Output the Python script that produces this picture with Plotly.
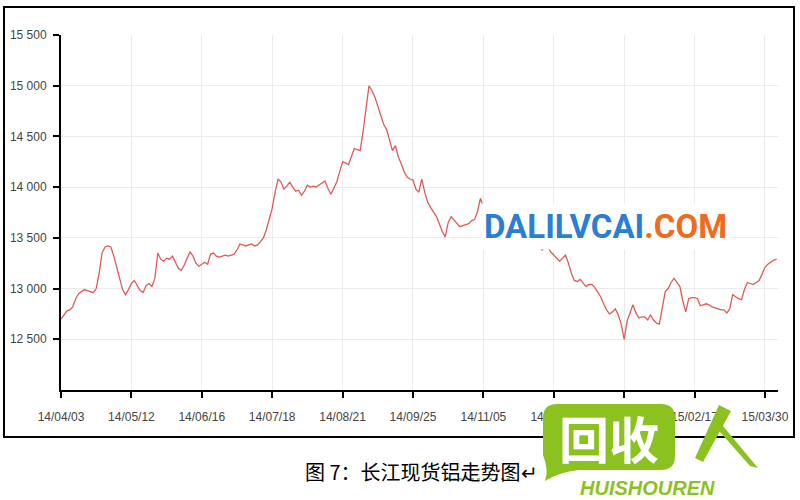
import plotly.graph_objects as go

# ---------------- data ----------------
prices = [
    12700, 12740, 12780, 12790, 12820, 12900, 12950, 12970, 12990, 12980,
    12970, 12960, 13000, 13150, 13350, 13410, 13420, 13410, 13320, 13220,
    13100, 12990, 12940, 12990, 13050, 13080, 13030, 12980, 12960, 13030,
    13050, 13020, 13100, 13350, 13290, 13270, 13300, 13290, 13320, 13260,
    13200, 13180, 13230, 13300, 13360, 13320, 13250, 13220, 13240, 13260,
    13240, 13340, 13350, 13320, 13310, 13320, 13330, 13320, 13330, 13340,
    13380, 13440, 13430, 13420, 13430, 13440, 13420, 13430, 13460, 13500,
    13580, 13680, 13790, 13950, 14080, 14050, 13980, 14010, 14050, 14000,
    13960, 13970, 13920, 13960, 14020, 14000, 14010, 14000, 14020, 14040,
    14060, 13990, 13930, 13990, 14050, 14150, 14250, 14240, 14220, 14300,
    14380, 14370, 14360, 14550, 14800, 15000, 14950, 14890, 14800, 14700,
    14620, 14570, 14450, 14360, 14410, 14300, 14230, 14150, 14100, 14080,
    14070, 13980, 13950, 14080, 13950, 13850, 13800, 13750, 13710, 13640,
    13560, 13510, 13650, 13710, 13680, 13640, 13610, 13620, 13630, 13640,
    13670, 13680, 13760, 13890, 13800, 13760, 13720, 13690, 13660, 13640,
    13620, 13650, 13600, 13570, 13590, 13560, 13530, 13550, 13510, 13490,
    13500, 13470, 13460, 13430, 13380, 13400, 13410, 13360, 13330, 13290,
    13270, 13300, 13330, 13250, 13150, 13080, 13070, 13090, 13060, 13020,
    13040, 13040, 13010, 12970, 12920, 12850, 12790, 12750, 12770, 12800,
    12740, 12650, 12500, 12680, 12760, 12840, 12760, 12710, 12720, 12720,
    12690, 12740, 12690, 12660, 12650, 12800, 12970, 13000, 13060, 13100,
    13060, 13020, 12880, 12770, 12900, 12910, 12910, 12900, 12830, 12840,
    12850, 12840, 12820, 12810, 12800, 12790, 12790, 12760, 12800, 12940,
    12920, 12900, 12890, 12990, 13060, 13050, 13040, 13060, 13080, 13140,
    13210, 13240, 13260, 13280, 13290,
]
x_tick_pos = [0, 24, 48, 72, 96, 120, 144, 168, 192, 216, 240]
x_tick_labels = ["14/04/03", "14/05/12", "14/06/16", "14/07/18", "14/08/21",
                 "14/09/25", "14/11/05", "14/12/09", "15/01/14", "15/02/17",
                 "15/03/30"]
y_tick_vals = [12500, 13000, 13500, 14000, 14500, 15000, 15500]
y_tick_labels = ["12 500", "13 000", "13 500", "14 000", "14 500", "15 000", "15 500"]
caption = "图 7：长江现货铝走势图↵"
watermark_blue = "DALILVCAI"
watermark_orange = ".COM"
logo_text = "回收"
logo_sub = "HUISHOUREN"

# ---------------- layout helpers (screen pixel -> paper) ----------------
W, H = 800, 500
L, T = 61, 35
R = W - 778
B = H - 390
PW, PH = W - L - R, H - T - B


def px(x):
    return (x - L) / PW


def py(y):
    return (H - B - y) / PH


GREEN = "#8cc220"

fig = go.Figure(
    go.Scatter(
        x=list(range(len(prices))),
        y=prices,
        mode="lines",
        line=dict(color="#e05a5a", width=1.3),
        hoverinfo="skip",
        showlegend=False,
    )
)

axis_common = dict(
    automargin=False,
    showgrid=True,
    gridcolor="#ebebeb",
    gridwidth=1,
    showline=True,
    linecolor="black",
    linewidth=2,
    ticks="outside",
    ticklen=6,
    tickwidth=1.5,
    tickcolor="black",
    zeroline=False,
    tickfont=dict(family="Liberation Sans", size=12, color="#444"),
)

fig.update_layout(
    width=W,
    height=H,
    margin=dict(l=L, r=R, t=T, b=B, autoexpand=False),
    paper_bgcolor="white",
    plot_bgcolor="white",
    xaxis=dict(
        range=[0, 244.45],
        tickmode="array",
        tickvals=x_tick_pos,
        ticktext=x_tick_labels,
        ticklabelstandoff=9,
        **axis_common,
    ),
    yaxis=dict(
        range=[12000, 15500],
        tickmode="array",
        tickvals=y_tick_vals,
        ticktext=y_tick_labels,
        ticklabelstandoff=4,
        **axis_common,
    ),
)

shapes = []
# outer frame
shapes.append(dict(type="rect", xref="paper", yref="paper",
                   x0=px(4), x1=px(794), y0=py(437), y1=py(7),
                   line=dict(color="black", width=2), fillcolor="rgba(0,0,0,0)"))

# green spell-check squiggle under the caption
shapes.append(dict(type="line", xref="paper", yref="paper",
                   x0=px(447), y0=py(479), x1=px(513), y1=py(479),
                   line=dict(color="#5fae3c", width=1.5, dash="dot")))

# green speech bubble logo
bubble_pts = [
    ("M", 557, 404), ("L", 661, 404), ("Q", 675, 404, 675, 418), ("L", 675, 456),
    ("Q", 675, 470, 661, 470), ("L", 578, 470), ("Q", 560, 472, 545, 481),
    ("Q", 549, 470, 543, 455), ("L", 543, 418), ("Q", 543, 404, 557, 404),
]
path = ""
for p in bubble_pts:
    if p[0] == "Q":
        path += f"Q{px(p[1])},{py(p[2])} {px(p[3])},{py(p[4])} "
    else:
        path += f"{p[0]}{px(p[1])},{py(p[2])} "
path += "Z"
shapes.append(dict(type="path", xref="paper", yref="paper", path=path,
                   fillcolor=GREEN, line=dict(width=0)))

# stylised "人" strokes
ren = [(719, 405), (731, 411), (703, 462), (695, 458)]
path2 = "M" + " L".join(f"{px(a)},{py(b)}" for a, b in ren) + " Z"
shapes.append(dict(type="path", xref="paper", yref="paper", path=path2,
                   fillcolor=GREEN, line=dict(width=0)))
ren2 = [(713, 424), (718, 420), (758, 468), (750, 466)]
path3 = "M" + " L".join(f"{px(a)},{py(b)}" for a, b in ren2) + " Z"
shapes.append(dict(type="path", xref="paper", yref="paper", path=path3,
                   fillcolor=GREEN, line=dict(width=0)))
shapes.append(dict(type="line", xref="paper", yref="paper",
                   x0=px(698), y0=py(458), x1=px(712), y1=py(438),
                   line=dict(color=GREEN, width=2)))

fig.update_layout(shapes=shapes)

annotations = [
    dict(
        xref="paper", yref="paper", x=px(605), y=py(227),
        xanchor="center", yanchor="middle", showarrow=False,
        text=f"<b><span style='color:#2a7fd4'>{watermark_blue}</span>"
             f"<span style='color:#f26a1b'>{watermark_orange}</span></b>",
        font=dict(family="Roboto", size=33),
        bgcolor="white", borderpad=3,
    ),
    dict(
        xref="paper", yref="paper", x=px(421), y=py(472),
        xanchor="center", yanchor="middle", showarrow=False,
        text=caption,
        font=dict(family="Noto Sans CJK SC", size=20, color="black"),
    ),
    dict(
        xref="paper", yref="paper", x=px(609), y=py(437),
        xanchor="center", yanchor="middle", showarrow=False,
        text=f"<b>{logo_text}</b>",
        font=dict(family="Noto Sans CJK SC", size=50, color="white"),
    ),
    dict(
        xref="paper", yref="paper", x=px(647), y=py(488),
        xanchor="center", yanchor="middle", showarrow=False,
        text=f"<b><i>{logo_sub}</i></b>",
        font=dict(family="Liberation Sans", size=20, color=GREEN),
    ),
]
fig.update_layout(annotations=annotations)

fig.write_html(
    "out.html",
    config={"displayModeBar": False},
    post_script="document.body.style.margin='0';document.body.style.overflow='hidden';",
)
